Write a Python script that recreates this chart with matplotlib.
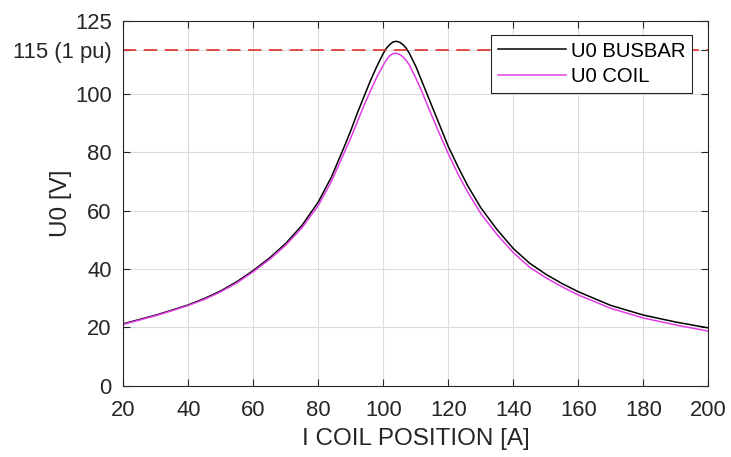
import matplotlib
matplotlib.use("Agg")
import matplotlib.pyplot as plt

# Coil current position [A]
i_coil = [20, 25, 30, 35, 40, 45, 50, 55, 60, 65, 70, 75, 80, 84, 88, 90,
          92, 94, 96, 98, 100, 101, 102, 103, 104, 105, 106, 107, 108, 110,
          112, 114, 116, 118, 120, 123, 126, 130, 135, 140, 145, 150, 155,
          160, 170, 180, 190, 200]

# Zero-sequence voltage at the busbar [V]
u0_busbar = [21.2, 22.7, 24.2, 25.9, 27.7, 29.9, 32.5, 35.7, 39.5, 43.8, 48.8,
             55.0, 63.0, 71.5, 82.0, 87.5, 93.5, 99.0, 104.5, 109.5, 114.0,
             115.8, 117.0, 117.9, 118.1, 117.8, 117.0, 115.8, 114.0, 109.5,
             104.0, 98.5, 93.0, 87.5, 82.0, 75.0, 68.5, 61.0, 53.5, 47.0,
             42.0, 38.2, 35.0, 32.2, 27.5, 24.2, 21.8, 19.8]

# Zero-sequence voltage across the coil [V]
u0_coil = [21.0, 22.5, 24.0, 25.7, 27.5, 29.6, 32.2, 35.3, 39.1, 43.3, 48.2,
           54.2, 61.8, 70.0, 80.0, 85.0, 90.5, 96.0, 101.0, 105.8, 110.0,
           111.8, 113.2, 113.9, 114.0, 113.6, 112.8, 111.6, 110.0, 105.5,
           100.5, 95.0, 89.8, 84.5, 79.5, 72.5, 66.3, 59.0, 51.8, 45.6,
           40.6, 37.0, 33.9, 31.1, 26.5, 23.2, 20.8, 18.7]

u_nominal = 115
y_ticks = [0, 20, 40, 60, 80, 100, 115, 125]
y_tick_labels = ['0', '20', '40', '60', '80', '100', '115 (1 pu)', '125']
x_ticks = [20, 40, 60, 80, 100, 120, 140, 160, 180, 200]

plt.rcParams['font.family'] = ['Liberation Sans', 'DejaVu Sans']
text_color = '#262626'

fig = plt.figure(figsize=(7.31, 4.57), dpi=100)
ax = fig.add_axes([0.1687, 0.1562, 0.8003, 0.7974])

ax.plot(i_coil, u0_busbar, color='black', lw=1.1, label='U0 BUSBAR')
ax.plot(i_coil, u0_coil, color='#e23ce6', lw=1.1, label='U0 COIL')
ax.axhline(u_nominal, color='#e0302c', lw=1.2, dashes=(8, 4.5))

ax.set_xlim(20, 200)
ax.set_ylim(0, 125)
ax.set_xticks(x_ticks)
ax.set_yticks(y_ticks)
ax.set_yticklabels(y_tick_labels)

ax.grid(True, color='#dcdcdc', lw=0.8)
ax.set_axisbelow(True)
ax.tick_params(direction='in', top=True, right=True, length=5, width=0.8,
               labelsize=15.8, colors=text_color)
ax.tick_params(axis='x', pad=10.4)
ax.tick_params(axis='y', pad=8.3)
for spine in ax.spines.values():
    spine.set_color(text_color)
    spine.set_linewidth(0.8)

ax.set_xlabel('I COIL POSITION [A]', fontsize=17.5, color=text_color)
ax.set_ylabel('U0 [V]', fontsize=17.5, color=text_color)
ax.xaxis.set_label_coords(0.5, -0.116)
ax.yaxis.set_label_coords(-0.088, 0.5)

leg = ax.legend(loc='upper right', bbox_to_anchor=(0.972, 0.962),
                fontsize=14.6, fancybox=False, edgecolor=text_color,
                framealpha=1, handlelength=3.35, handletextpad=0.25,
                borderaxespad=0, borderpad=0.32, labelspacing=0.32)
leg.get_frame().set_linewidth(0.8)

fig.savefig('out.png', dpi=100)
